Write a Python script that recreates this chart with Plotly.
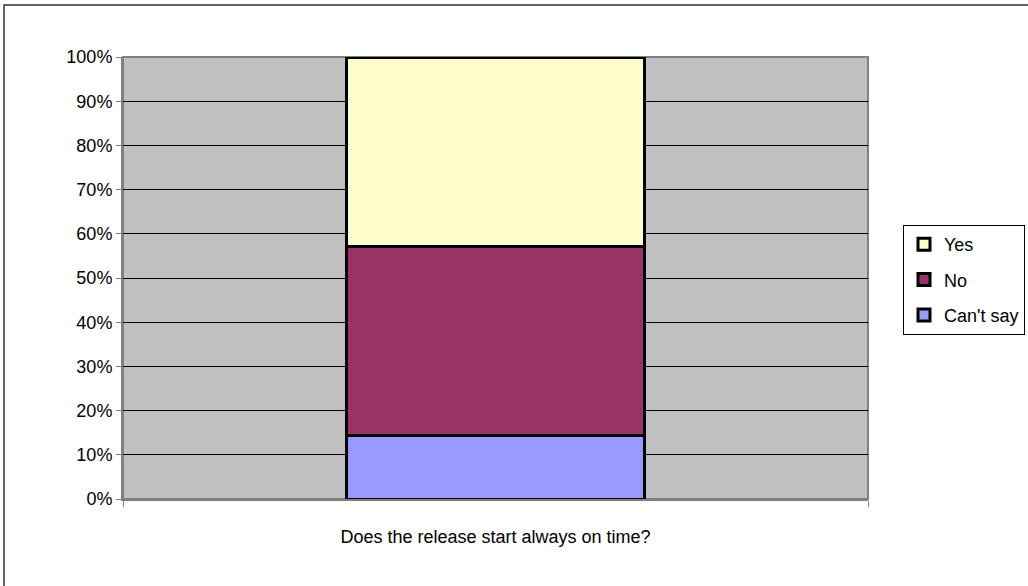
import plotly.graph_objects as go

categories = ["Does the release start always on time?"]
series_names = ["Can't say", "No", "Yes"]
series_values = [[14.3], [42.9], [42.8]]
series_colors = ["#9999FF", "#993366", "#FFFFCC"]
legend_ranks = [3, 2, 1]
y_tickvals = [0, 10, 20, 30, 40, 50, 60, 70, 80, 90, 100]
y_ticktext = ["0%", "10%", "20%", "30%", "40%", "50%", "60%", "70%", "80%", "90%", "100%"]

FONT = "Liberation Sans, Arial, sans-serif"

fig = go.Figure()
for name, vals, col, rk in zip(series_names, series_values, series_colors, legend_ranks):
    fig.add_trace(go.Bar(
        x=categories, y=vals, name=name, width=0.4,
        marker=dict(color=col, line=dict(color="black", width=3)),
        legendgroup=name, legendrank=rk,
    ))

fig.update_layout(
    width=1028, height=586,
    margin=dict(l=123, r=160, t=57, b=87, autoexpand=False),
    barmode="stack",
    paper_bgcolor="white",
    plot_bgcolor="#C0C0C0",
    font=dict(family=FONT, size=18, color="black"),
    legend=dict(
        xref="container", yref="container",
        x=903 / 1028, y=1 - 225 / 586, xanchor="left", yanchor="top",
        traceorder="grouped", tracegroupgap=9, itemwidth=30,
        bordercolor="black", borderwidth=1, bgcolor="white",
        font=dict(family=FONT, size=18),
    ),
    xaxis=dict(
        type="category", range=[-0.5, 0.5],
        showgrid=False, showline=True, linecolor="#808080", linewidth=2,
        ticks="outside", tickson="boundaries", ticklen=6, tickcolor="#808080",
        ticklabelstandoff=20,
    ),
    yaxis=dict(
        range=[0, 100], tickvals=y_tickvals, ticktext=y_ticktext,
        showgrid=True, gridcolor="black", gridwidth=1,
        showline=True, linecolor="#808080", linewidth=2,
        ticks="outside", ticklen=5, tickcolor="#808080",
        zeroline=False,
    ),
    shapes=[
        dict(type="rect", xref="paper", yref="paper", x0=0, x1=1, y0=0, y1=1,
             line=dict(color="#808080", width=2), layer="below"),
        dict(type="rect", xref="paper", yref="paper", x0=-0.1597, x1=2, y0=-1, y1=1.1176,
             line=dict(color="#333333", width=1.5), layer="above"),
    ],
)

fig.write_html("out.html")
